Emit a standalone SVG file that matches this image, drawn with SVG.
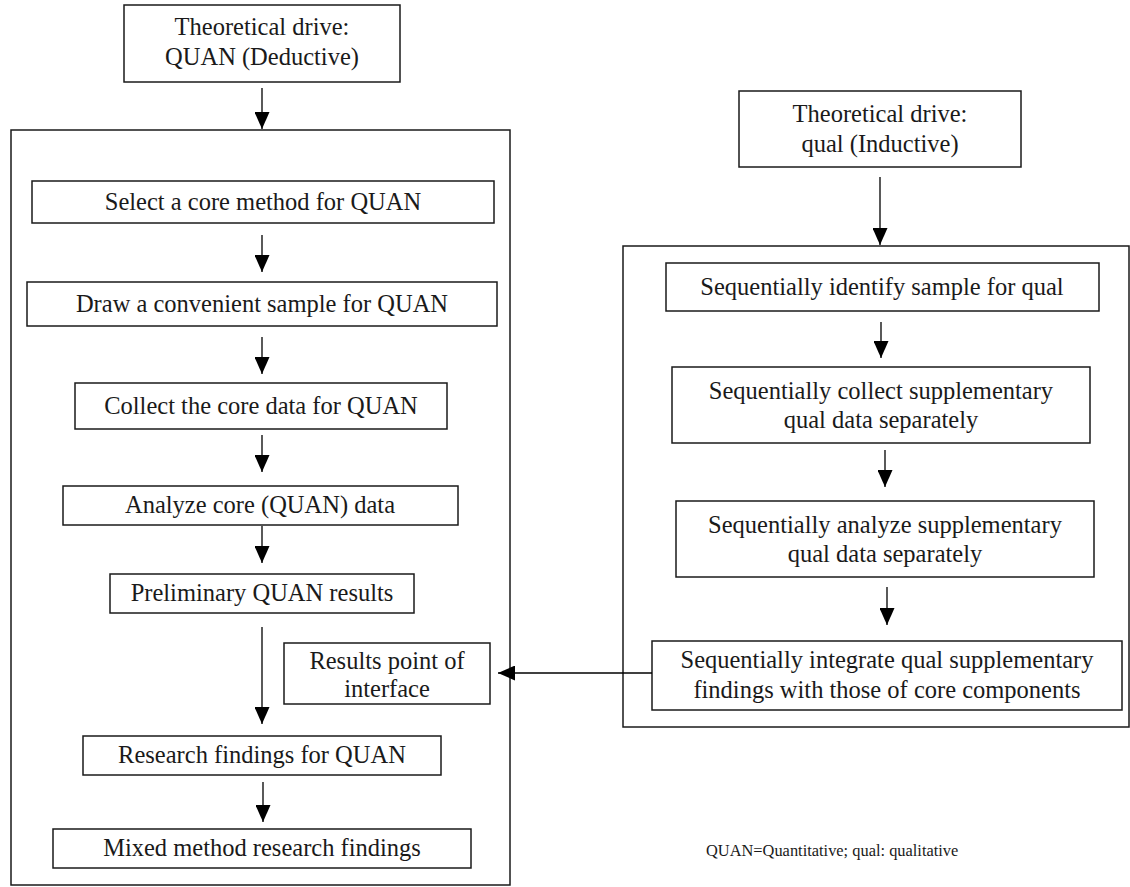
<svg xmlns="http://www.w3.org/2000/svg" width="1130" height="887" viewBox="0 0 1130 887">
<style>
  .box { fill: #ffffff; stroke: #1a1a1a; stroke-width: 1.5; }
  .frame { fill: none; stroke: #1a1a1a; stroke-width: 1.5; }
  .t { font-family: "Liberation Serif", "Times New Roman", serif; font-size: 24.5px; fill: #1a1a1a; text-anchor: middle; }
  .note { font-family: "Liberation Serif", "Times New Roman", serif; font-size: 16.4px; fill: #1a1a1a; }
  .conn { stroke: #000000; stroke-width: 1.3; fill: none; marker-end: url(#ah); }
</style>
<defs>
  <marker id="ah" viewBox="0 0 17 15" refX="17" refY="7.5" markerWidth="17" markerHeight="15" orient="auto" markerUnits="userSpaceOnUse">
    <path d="M0,0 L17,7.5 L0,15 Z" fill="#000000"/>
  </marker>
</defs>
<rect width="1130" height="887" fill="#ffffff"/>

<g id="frame-quan"><rect class="frame" x="11" y="130" width="499" height="755"/></g>
<g id="frame-qual"><rect class="frame" x="623" y="246" width="506" height="481"/></g>

<g id="quan-drive">
  <rect class="box" x="124" y="5" width="276" height="77"/>
  <text class="t" x="262" y="35">Theoretical drive:</text>
  <text class="t" x="262" y="65">QUAN (Deductive)</text>
</g>
<g id="quan-1">
  <rect class="box" x="32" y="181" width="462" height="42"/>
  <text class="t" x="263" y="210">Select a core method for QUAN</text>
</g>
<g id="quan-2">
  <rect class="box" x="27" y="282" width="470" height="44"/>
  <text class="t" x="262" y="312">Draw a convenient sample for QUAN</text>
</g>
<g id="quan-3">
  <rect class="box" x="75" y="383" width="372" height="46"/>
  <text class="t" x="261" y="414">Collect the core data for QUAN</text>
</g>
<g id="quan-4">
  <rect class="box" x="63" y="486" width="395" height="39"/>
  <text class="t" x="260" y="513">Analyze core (QUAN) data</text>
</g>
<g id="quan-5">
  <rect class="box" x="110" y="574" width="304" height="39"/>
  <text class="t" x="262" y="601">Preliminary QUAN results</text>
</g>
<g id="interface">
  <rect class="box" x="284" y="643" width="206" height="61"/>
  <text class="t" x="387" y="669">Results point of</text>
  <text class="t" x="387" y="697">interface</text>
</g>
<g id="quan-6">
  <rect class="box" x="83" y="736" width="358" height="39"/>
  <text class="t" x="262" y="763">Research findings for QUAN</text>
</g>
<g id="quan-7">
  <rect class="box" x="53" y="829" width="418" height="39"/>
  <text class="t" x="262" y="856">Mixed method research findings</text>
</g>

<g id="qual-drive">
  <rect class="box" x="739" y="91" width="282" height="76"/>
  <text class="t" x="880" y="122">Theoretical drive:</text>
  <text class="t" x="880" y="152">qual (Inductive)</text>
</g>
<g id="qual-1">
  <rect class="box" x="666" y="263" width="433" height="48"/>
  <text class="t" x="882" y="295">Sequentially identify sample for qual</text>
</g>
<g id="qual-2">
  <rect class="box" x="672" y="367" width="418" height="76"/>
  <text class="t" x="881" y="399">Sequentially collect supplementary</text>
  <text class="t" x="881" y="428">qual data separately</text>
</g>
<g id="qual-3">
  <rect class="box" x="676" y="501" width="418" height="76"/>
  <text class="t" x="885" y="533">Sequentially analyze supplementary</text>
  <text class="t" x="885" y="562">qual data separately</text>
</g>
<g id="qual-4">
  <rect class="box" x="652" y="641" width="470" height="69"/>
  <text class="t" x="887" y="668">Sequentially integrate qual supplementary</text>
  <text class="t" x="887" y="698">findings with those of core components</text>
</g>

<g id="connectors">
  <line class="conn" x1="262" y1="88" x2="262" y2="129"/>
  <line class="conn" x1="262" y1="235" x2="262" y2="272"/>
  <line class="conn" x1="262" y1="337" x2="262" y2="374"/>
  <line class="conn" x1="262" y1="435" x2="262" y2="472"/>
  <line class="conn" x1="262" y1="526" x2="262" y2="563"/>
  <line class="conn" x1="262" y1="627" x2="262" y2="724"/>
  <line class="conn" x1="263" y1="782" x2="263" y2="822"/>
  <line class="conn" x1="880" y1="177" x2="880" y2="245"/>
  <line class="conn" x1="881" y1="322" x2="881" y2="358"/>
  <line class="conn" x1="885" y1="450" x2="885" y2="487"/>
  <line class="conn" x1="887" y1="587" x2="887" y2="625"/>
  <line class="conn" x1="652" y1="673" x2="498" y2="673"/>
</g>

<text class="note" x="706" y="856">QUAN=Quantitative; qual: qualitative</text>
</svg>
